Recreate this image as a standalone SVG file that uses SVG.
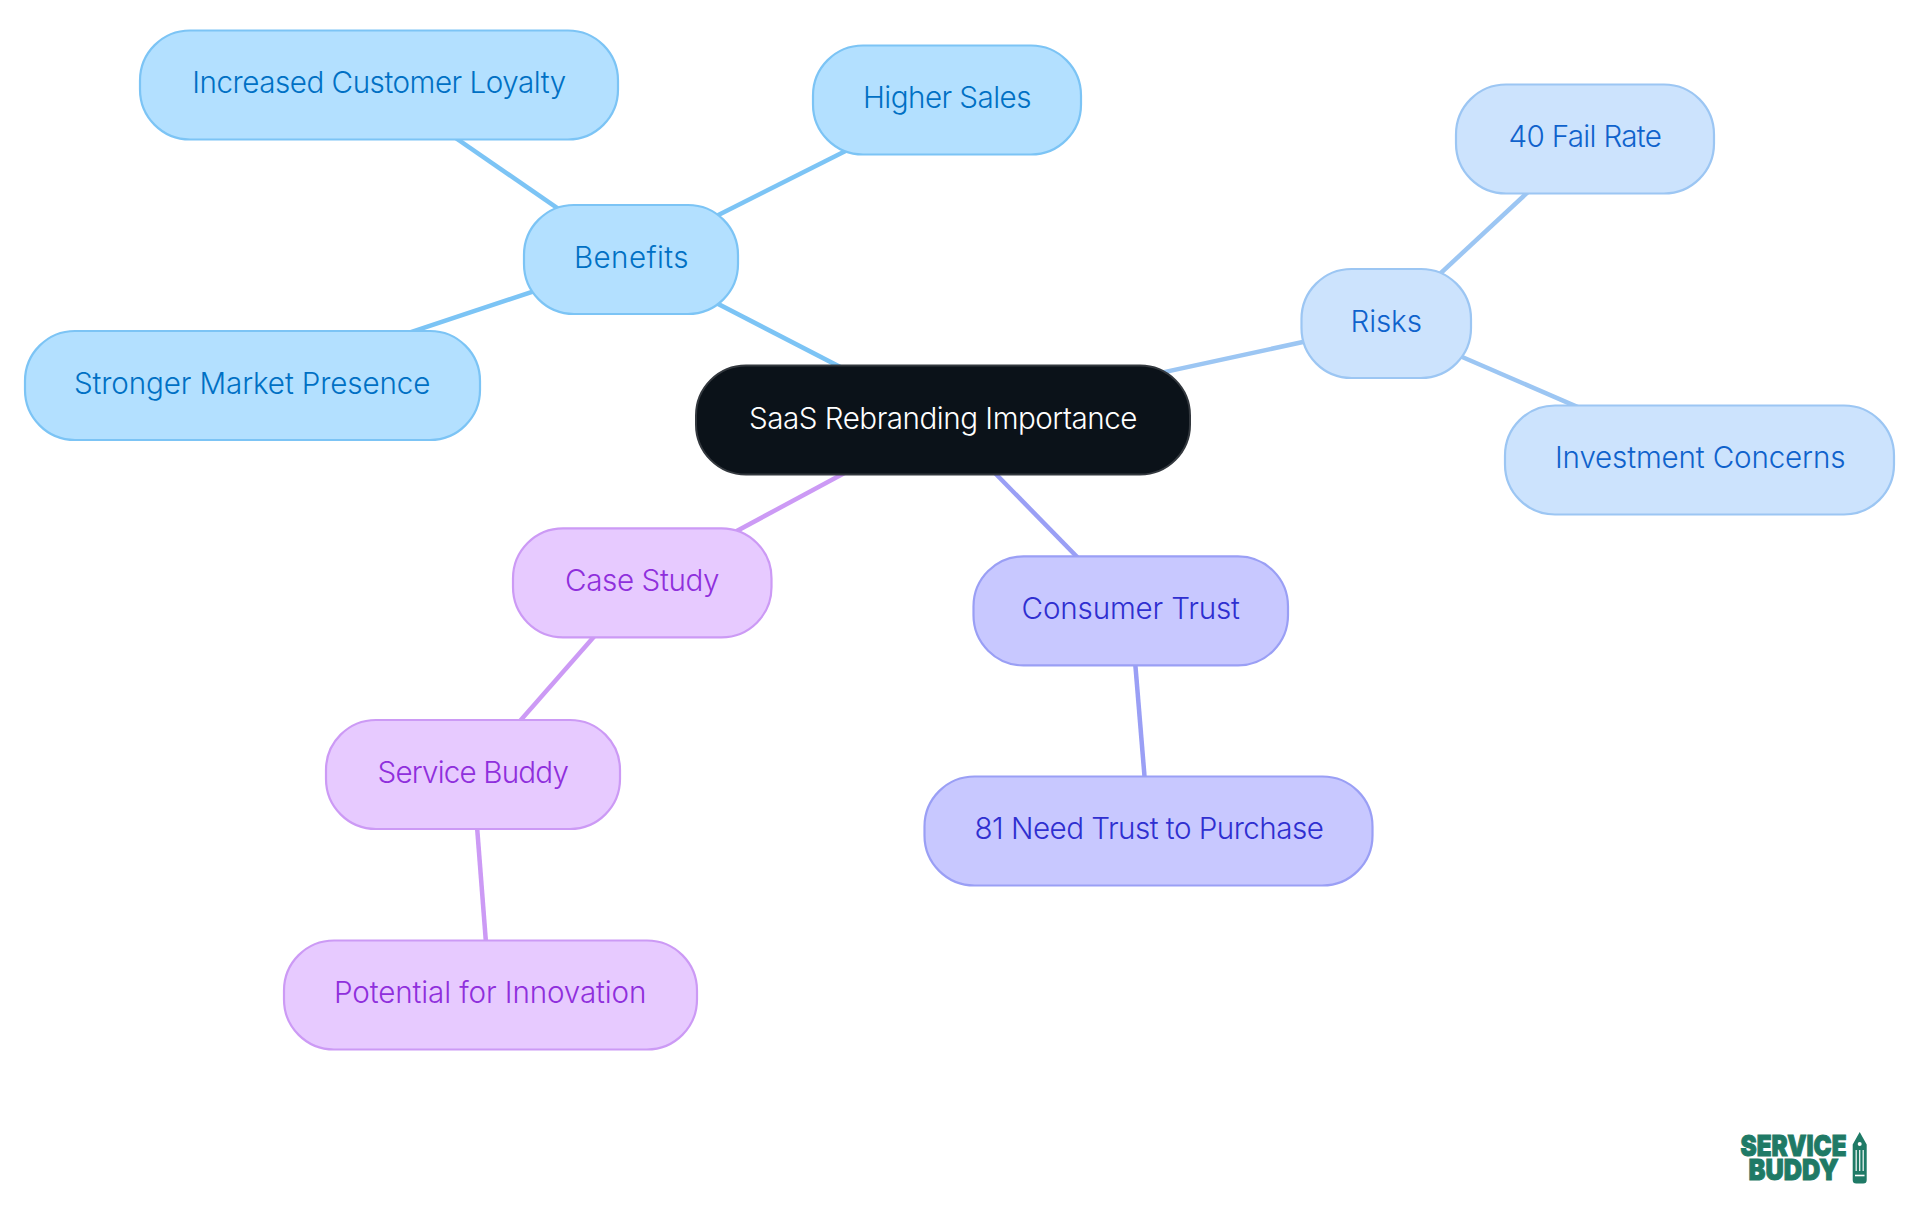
<svg xmlns="http://www.w3.org/2000/svg" width="1920" height="1215" viewBox="0 0 1920 1215">
<style>
text{font-family:Inter,"Noto Sans","Liberation Sans",sans-serif;font-size:29.6px;font-weight:340;letter-spacing:-.42px;text-anchor:middle}
rect{rx:50px}
.n{stroke-width:2.2}
.e{stroke-width:4.5;fill:none}
.b rect{fill:#b3e0ff;stroke:#7cc4f5}.b text{fill:#0070c4}
.r rect{fill:#cce3fd;stroke:#9cc6f3}.r text{fill:#0f62cc}
.c rect{fill:#e7caff;stroke:#cc9af5}.c text{fill:#8f2fdc}
.t rect{fill:#c8c8ff;stroke:#9a9ff5}.t text{fill:#2f2fd0}
.eb{stroke:#7cc4f5}.er{stroke:#9cc6f3}.ec{stroke:#cc9af5}.et{stroke:#9a9ff5}
.lg{font-family:Inter,Roboto,sans-serif;font-weight:900;font-size:29px;letter-spacing:0;fill:#1f7a66;stroke:#1f7a66;stroke-width:1;text-anchor:start}
</style>
<rect width="1920" height="1215" fill="#fff" style="rx:0"/>
<g id="connectors">
<line class="e eb" x1="943" y1="420" x2="631" y2="259"/>
<line class="e eb" x1="631" y1="259" x2="379" y2="85"/>
<line class="e eb" x1="631" y1="259" x2="947" y2="100"/>
<line class="e eb" x1="631" y1="259" x2="252" y2="385"/>
<line class="e er" x1="943" y1="420" x2="1386" y2="324"/>
<line class="e er" x1="1386" y1="324" x2="1585" y2="139"/>
<line class="e er" x1="1386" y1="324" x2="1700" y2="460"/>
<line class="e ec" x1="943" y1="420" x2="642" y2="582"/>
<line class="e ec" x1="642" y1="582" x2="473" y2="774.5"/>
<line class="e ec" x1="473" y1="774.5" x2="490" y2="995"/>
<line class="e et" x1="943" y1="420" x2="1131" y2="612"/>
<line class="e et" x1="1131" y1="612" x2="1149" y2="831"/>
</g>
<g id="root"><rect x="696" y="365.5" width="494" height="109" fill="#0b1219" stroke="#33383e" stroke-width="2"/><text x="943" y="428.5" fill="#fff" style="font-weight:300" textLength="388">SaaS Rebranding Importance</text></g>
<g id="benefits" class="b"><rect class="n" x="524" y="205" width="214" height="109"/><text x="631" y="267.5" textLength="114">Benefits</text></g>
<g id="loyalty" class="b"><rect class="n" x="140" y="30.5" width="478" height="109"/><text x="379" y="93" textLength="373.500">Increased Customer Loyalty</text></g>
<g id="sales" class="b"><rect class="n" x="813" y="45.5" width="268" height="109"/><text x="947" y="108" textLength="168">Higher Sales</text></g>
<g id="presence" class="b"><rect class="n" x="25" y="331" width="455" height="109"/><text x="252" y="393.5" textLength="356">Stronger Market Presence</text></g>
<g id="risks" class="r"><rect class="n" x="1301.5" y="269" width="169.5" height="109"/><text x="1386" y="332" textLength="71">Risks</text></g>
<g id="fail" class="r"><rect class="n" x="1456" y="84.5" width="258" height="109"/><text x="1585" y="147" textLength="153">40 Fail Rate</text></g>
<g id="investment" class="r"><rect class="n" x="1505" y="405.5" width="389" height="109"/><text x="1700" y="468" textLength="290">Investment Concerns</text></g>
<g id="case" class="c"><rect class="n" x="513" y="528.3" width="258.5" height="109"/><text x="642" y="590.7" textLength="154">Case Study</text></g>
<g id="buddy" class="c"><rect class="n" x="326" y="720" width="294" height="109"/><text x="473" y="782.5" textLength="191">Service Buddy</text></g>
<g id="innovation" class="c"><rect class="n" x="284" y="940.5" width="413" height="109"/><text x="490" y="1003" textLength="312">Potential for Innovation</text></g>
<g id="trust" class="t"><rect class="n" x="973.5" y="556.3" width="314.5" height="109"/><text x="1130.500" y="619" textLength="218">Consumer Trust</text></g>
<g id="need" class="t"><rect class="n" x="924.5" y="776.5" width="448" height="109"/><text x="1149" y="839" textLength="349">81 Need Trust to Purchase</text></g>
<g id="logo">
<text class="lg" x="1740.5" y="1156" textLength="106" lengthAdjust="spacingAndGlyphs">SERVICE</text>
<text class="lg" x="1748.5" y="1180" textLength="90" lengthAdjust="spacingAndGlyphs">BUDDY</text>
<path d="M1859.7 1132l7 12.500v35.500a3.500 3.500 0 0 1-3.500 3.500h-7a3.500 3.500 0 0 1-3.500-3.500v-35.500z" fill="#1f7a66"/>
<circle cx="1859.700" cy="1144" r="2" fill="#fff"/>
<path d="M1856.200 1150v21M1859.700 1150v21M1863.200 1150v21" stroke="#fff" stroke-width="1.300" fill="none" opacity=".9"/>
<path d="M1855 1175.500h9.500" stroke="#fff" stroke-width="1.600" fill="none"/>
</g>
</svg>
